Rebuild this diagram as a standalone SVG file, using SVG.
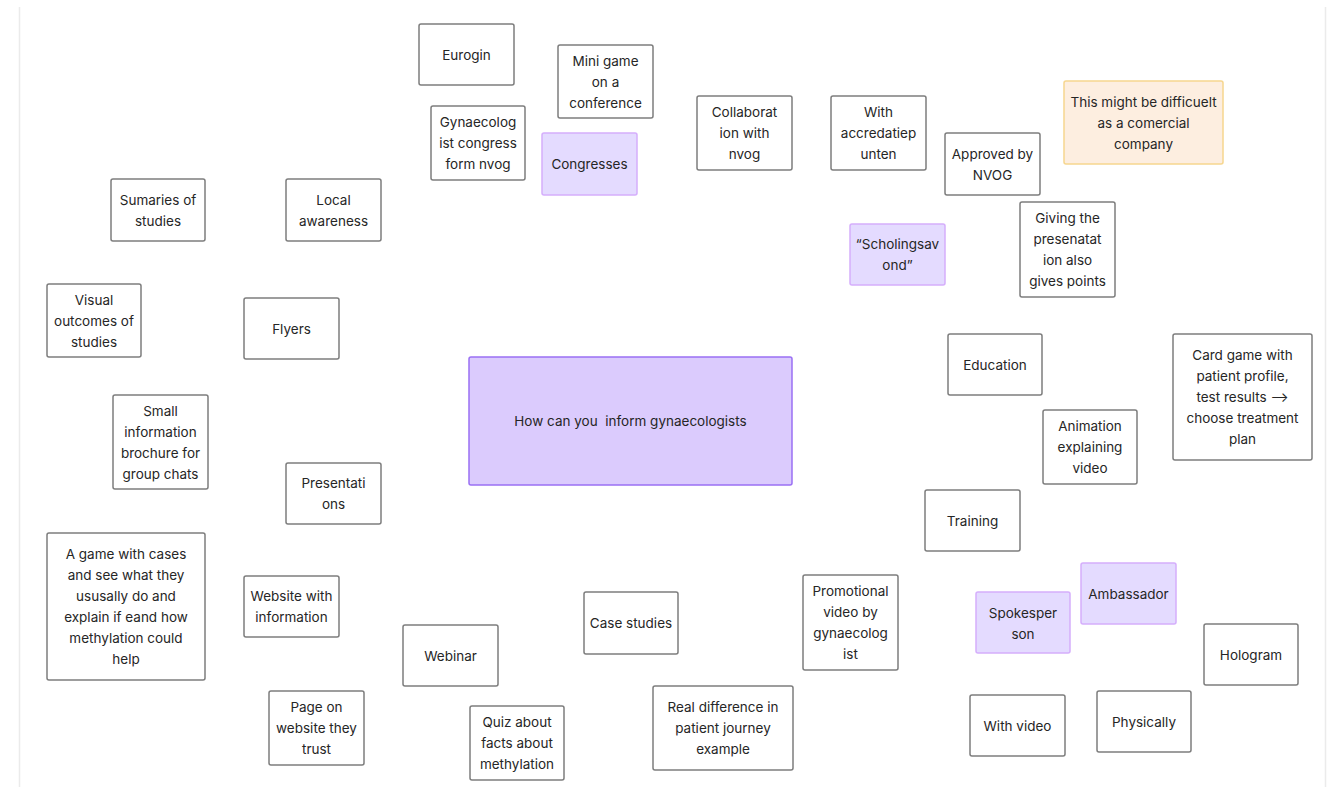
<svg xmlns="http://www.w3.org/2000/svg" width="1333" height="787" viewBox="0 0 1333 787">
  <style>
    .note rect { fill: #ffffff; stroke: #7d7d7d; stroke-width: 1.5; }
    .note.lilac rect { fill: #e4dbff; stroke: #d5aefc; }
    .note.core rect { fill: #dbcbfd; stroke: #9a70f4; }
    .note.amber rect { fill: #fdeee0; stroke: #f6d68f; }
    .note text { font-family: Inter, "Noto Sans", "Liberation Sans", sans-serif; font-size: 13.5px; fill: #262626; text-anchor: middle; }
    .frame { stroke: #ebebeb; stroke-width: 1.5; }
  </style>

  <rect width="1333" height="787" fill="#ffffff"/>
  <line class="frame" x1="19.5" y1="7" x2="19.5" y2="787"/>
  <line class="frame" x1="1325.5" y1="7" x2="1325.5" y2="787"/>

  <!-- no connectors on this board -->
  <g id="connectors"/>

  <g id="n-central" class="note core">
    <rect x="469" y="357" width="323" height="128" rx="2"/>
    <text x="630.5" y="426">How can you&#160; inform gynaecologists</text>
  </g>

  <g id="n-eurogin" class="note">
    <rect x="419" y="24" width="95" height="61" rx="2"/>
    <text x="466.5" y="59.5">Eurogin</text>
  </g>
  <g id="n-minigame" class="note">
    <rect x="558" y="45" width="95" height="73" rx="2"/>
    <text x="605.5" y="65.5"><tspan x="605.5">Mini game</tspan><tspan x="605.5" dy="21">on a</tspan><tspan x="605.5" dy="21">conference</tspan></text>
  </g>
  <g id="n-gyncongress" class="note">
    <rect x="431" y="106" width="94" height="74" rx="2"/>
    <text x="478" y="127"><tspan x="478">Gynaecolog</tspan><tspan x="478" dy="21">ist congress</tspan><tspan x="478" dy="21">form nvog</tspan></text>
  </g>
  <g id="n-congresses" class="note lilac">
    <rect x="542" y="133" width="95" height="62" rx="2"/>
    <text x="589.5" y="169">Congresses</text>
  </g>
  <g id="n-collab" class="note">
    <rect x="697" y="96" width="95" height="74" rx="2"/>
    <text x="744.5" y="117"><tspan x="744.5">Collaborat</tspan><tspan x="744.5" dy="21">ion with</tspan><tspan x="744.5" dy="21">nvog</tspan></text>
  </g>
  <g id="n-accred" class="note">
    <rect x="831" y="96" width="95" height="74" rx="2"/>
    <text x="878.5" y="117"><tspan x="878.5">With</tspan><tspan x="878.5" dy="21">accredatiep</tspan><tspan x="878.5" dy="21">unten</tspan></text>
  </g>
  <g id="n-approved" class="note">
    <rect x="945" y="133" width="95" height="62" rx="2"/>
    <text x="992.5" y="159"><tspan x="992.5">Approved by</tspan><tspan x="992.5" dy="21">NVOG</tspan></text>
  </g>
  <g id="n-commercial" class="note amber">
    <rect x="1064" y="81" width="159" height="83" rx="2"/>
    <text x="1143.5" y="107"><tspan x="1143.5">This might be difficuelt</tspan><tspan x="1143.5" dy="21">as a comercial</tspan><tspan x="1143.5" dy="21">company</tspan></text>
  </g>
  <g id="n-scholing" class="note lilac">
    <rect x="850" y="224" width="95" height="61" rx="2"/>
    <text x="897.5" y="249"><tspan x="897.5">“Scholingsav</tspan><tspan x="897.5" dy="21">ond”</tspan></text>
  </g>
  <g id="n-points" class="note">
    <rect x="1020" y="202" width="95" height="95" rx="2"/>
    <text x="1067.5" y="223"><tspan x="1067.5">Giving the</tspan><tspan x="1067.5" dy="21">presenatat</tspan><tspan x="1067.5" dy="21">ion also</tspan><tspan x="1067.5" dy="21">gives points</tspan></text>
  </g>

  <g id="n-summaries" class="note">
    <rect x="111" y="179" width="94" height="62" rx="2"/>
    <text x="158" y="205"><tspan x="158">Sumaries of</tspan><tspan x="158" dy="21">studies</tspan></text>
  </g>
  <g id="n-local" class="note">
    <rect x="286" y="179" width="95" height="62" rx="2"/>
    <text x="333.5" y="205"><tspan x="333.5">Local</tspan><tspan x="333.5" dy="21">awareness</tspan></text>
  </g>
  <g id="n-visual" class="note">
    <rect x="47" y="284" width="94" height="73" rx="2"/>
    <text x="94" y="305"><tspan x="94">Visual</tspan><tspan x="94" dy="21">outcomes of</tspan><tspan x="94" dy="21">studies</tspan></text>
  </g>
  <g id="n-flyers" class="note">
    <rect x="244" y="298" width="95" height="61" rx="2"/>
    <text x="291.5" y="333.5">Flyers</text>
  </g>
  <g id="n-brochure" class="note">
    <rect x="113" y="395" width="95" height="94" rx="2"/>
    <text x="160.5" y="416"><tspan x="160.5">Small</tspan><tspan x="160.5" dy="21">information</tspan><tspan x="160.5" dy="21">brochure for</tspan><tspan x="160.5" dy="21">group chats</tspan></text>
  </g>
  <g id="n-presentations" class="note">
    <rect x="286" y="463" width="95" height="61" rx="2"/>
    <text x="333.5" y="488"><tspan x="333.5">Presentati</tspan><tspan x="333.5" dy="21">ons</tspan></text>
  </g>
  <g id="n-casegame" class="note">
    <rect x="47" y="533" width="158" height="147" rx="2"/>
    <text x="126" y="559"><tspan x="126">A game with cases</tspan><tspan x="126" dy="21">and see what they</tspan><tspan x="126" dy="21">ususally do and</tspan><tspan x="126" dy="21">explain if eand how</tspan><tspan x="126" dy="21">methylation could</tspan><tspan x="126" dy="21">help</tspan></text>
  </g>
  <g id="n-website" class="note">
    <rect x="244" y="576" width="95" height="61" rx="2"/>
    <text x="291.5" y="601"><tspan x="291.5">Website with</tspan><tspan x="291.5" dy="21">information</tspan></text>
  </g>
  <g id="n-trustpage" class="note">
    <rect x="269" y="691" width="95" height="74" rx="2"/>
    <text x="316.5" y="712"><tspan x="316.5">Page on</tspan><tspan x="316.5" dy="21">website they</tspan><tspan x="316.5" dy="21">trust</tspan></text>
  </g>
  <g id="n-webinar" class="note">
    <rect x="403" y="625" width="95" height="61" rx="2"/>
    <text x="450.5" y="660.5">Webinar</text>
  </g>
  <g id="n-quiz" class="note">
    <rect x="470" y="706" width="94" height="74" rx="2"/>
    <text x="517" y="727"><tspan x="517">Quiz about</tspan><tspan x="517" dy="21">facts about</tspan><tspan x="517" dy="21">methylation</tspan></text>
  </g>
  <g id="n-casestudies" class="note">
    <rect x="584" y="592" width="94" height="62" rx="2"/>
    <text x="631" y="628">Case studies</text>
  </g>
  <g id="n-journey" class="note">
    <rect x="653" y="686" width="140" height="84" rx="2"/>
    <text x="723" y="712"><tspan x="723">Real difference in</tspan><tspan x="723" dy="21">patient journey</tspan><tspan x="723" dy="21">example</tspan></text>
  </g>
  <g id="n-promo" class="note">
    <rect x="803" y="575" width="95" height="95" rx="2"/>
    <text x="850.5" y="596"><tspan x="850.5">Promotional</tspan><tspan x="850.5" dy="21">video by</tspan><tspan x="850.5" dy="21">gynaecolog</tspan><tspan x="850.5" dy="21">ist</tspan></text>
  </g>

  <g id="n-education" class="note">
    <rect x="948" y="334" width="94" height="61" rx="2"/>
    <text x="995" y="369.5">Education</text>
  </g>
  <g id="n-animation" class="note">
    <rect x="1043" y="410" width="94" height="74" rx="2"/>
    <text x="1090" y="431"><tspan x="1090">Animation</tspan><tspan x="1090" dy="21">explaining</tspan><tspan x="1090" dy="21">video</tspan></text>
  </g>
  <g id="n-cardgame" class="note">
    <rect x="1173" y="334" width="139" height="126" rx="2"/>
    <text x="1242.5" y="360"><tspan x="1242.5">Card game with</tspan><tspan x="1242.5" dy="21">patient profile,</tspan><tspan x="1242.5" dy="21">test results ⟶</tspan><tspan x="1242.5" dy="21">choose treatment</tspan><tspan x="1242.5" dy="21">plan</tspan></text>
  </g>
  <g id="n-training" class="note">
    <rect x="925" y="490" width="95" height="61" rx="2"/>
    <text x="972.5" y="525.5">Training</text>
  </g>
  <g id="n-ambassador" class="note lilac">
    <rect x="1081" y="563" width="95" height="61" rx="2"/>
    <text x="1128.5" y="599">Ambassador</text>
  </g>
  <g id="n-spokesperson" class="note lilac">
    <rect x="976" y="592" width="94" height="61" rx="2"/>
    <text x="1023" y="618"><tspan x="1023">Spokesper</tspan><tspan x="1023" dy="21">son</tspan></text>
  </g>
  <g id="n-hologram" class="note">
    <rect x="1204" y="624" width="94" height="61" rx="2"/>
    <text x="1251" y="660">Hologram</text>
  </g>
  <g id="n-withvideo" class="note">
    <rect x="970" y="695" width="95" height="61" rx="2"/>
    <text x="1017.5" y="731">With video</text>
  </g>
  <g id="n-physically" class="note">
    <rect x="1097" y="691" width="94" height="61" rx="2"/>
    <text x="1144" y="727">Physically</text>
  </g>
</svg>
